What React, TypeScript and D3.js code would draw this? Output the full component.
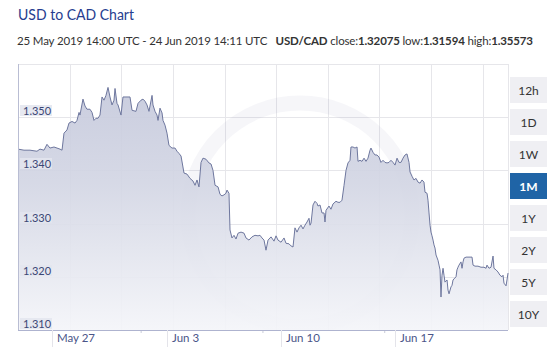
import React from "react";
import * as d3 from "d3";

// ---- data ----
const START_UTC = Date.UTC(2019, 4, 25, 14, 0);
const END_UTC = Date.UTC(2019, 5, 24, 14, 11);

const hoursFromStart = [
  0, 8.8, 17.6, 27.9, 32.3, 38.2, 42.6, 47.0, 52.9, 57.3, 61.7, 64.7, 67.6, 72.0, 75.0, 79.4, 83.8, 86.7, 89.7, 91.1,
  95.5, 98.5, 101.4, 105.8, 108.8, 111.7, 114.6, 117.6, 120.5, 123.5, 126.4, 129.3, 132.3, 135.2, 138.2, 141.1, 142.6, 145.5, 147.0, 151.4,
  154.3, 158.7, 164.6, 167.6, 173.4, 176.4, 180.8, 183.7, 186.7, 189.6, 192.5, 197.0, 198.4, 201.4, 204.3, 205.8, 208.7, 211.7, 213.1, 216.1,
  219.0, 221.9, 226.3, 230.8, 233.7, 236.6, 239.6, 244.0, 248.4, 252.8, 257.2, 260.2, 263.1, 266.0, 269.0, 271.9, 276.3, 280.7, 283.7, 286.6,
  289.6, 294.0, 296.9, 299.8, 302.8, 305.7, 307.2, 310.1, 311.6, 314.5, 317.5, 320.4, 323.4, 327.8, 332.2, 335.1, 339.5, 343.9, 348.3, 352.8,
  355.7, 358.6, 361.6, 364.5, 367.5, 371.9, 376.3, 379.2, 382.1, 386.6, 391.0, 393.9, 398.3, 401.3, 404.2, 407.1, 410.1, 413.0, 416.0, 418.9,
  421.8, 424.8, 427.7, 429.2, 430.7, 433.6, 436.5, 439.5, 440.9, 443.9, 446.8, 449.8, 451.2, 452.7, 457.1, 460.0, 463.0, 467.4, 470.3, 473.3,
  476.2, 479.2, 482.1, 485.0, 488.0, 489.4, 492.4, 495.3, 498.3, 499.7, 502.7, 505.6, 508.6, 511.5, 514.4, 517.4, 518.8, 521.8, 524.7, 527.7,
  530.6, 533.5, 536.5, 539.4, 542.4, 545.3, 548.2, 551.2, 554.1, 557.1, 560.0, 562.9, 565.9, 568.8, 571.7, 574.7, 576.2, 579.1, 582.0, 585.0,
  587.9, 590.9, 593.8, 596.7, 598.2, 601.2, 602.6, 604.1, 605.6, 607.0, 608.5, 610.0, 611.4, 612.9, 614.4, 617.3, 618.8, 620.3, 621.7, 623.2,
  624.7, 626.1, 627.6, 630.6, 632.0, 633.5, 636.4, 637.9, 639.4, 640.8, 643.8, 645.2, 646.7, 648.2, 651.1, 652.6, 654.1, 655.5, 658.5, 664.4,
  667.3, 668.8, 671.7, 676.1, 680.5, 684.9, 687.9, 689.3, 692.3, 695.2, 698.2, 699.6, 702.6, 705.5, 708.4, 711.4, 712.9, 714.3, 717.3, 718.7,
  720.2,
];

const rates = [
  1.3440, 1.3438, 1.3438, 1.3436, 1.3440, 1.3438, 1.3449, 1.3442, 1.3444, 1.3442, 1.3440, 1.3438, 1.3470, 1.3476, 1.3489, 1.3492, 1.3489, 1.3494, 1.3509, 1.3504,
  1.3534, 1.3521, 1.3515, 1.3515, 1.3509, 1.3494, 1.3498, 1.3498, 1.3504, 1.3538, 1.3532, 1.3541, 1.3556, 1.3538, 1.3523, 1.3532, 1.3554, 1.3526, 1.3523, 1.3504,
  1.3538, 1.3538, 1.3538, 1.3513, 1.3511, 1.3526, 1.3532, 1.3534, 1.3530, 1.3523, 1.3511, 1.3541, 1.3523, 1.3511, 1.3504, 1.3494, 1.3517, 1.3508, 1.3494, 1.3485,
  1.3470, 1.3447, 1.3442, 1.3442, 1.3436, 1.3432, 1.3427, 1.3395, 1.3393, 1.3385, 1.3380, 1.3372, 1.3382, 1.3369, 1.3415, 1.3423, 1.3421, 1.3414, 1.3412, 1.3400,
  1.3372, 1.3369, 1.3355, 1.3352, 1.3354, 1.3357, 1.3363, 1.3357, 1.3288, 1.3273, 1.3278, 1.3271, 1.3282, 1.3284, 1.3282, 1.3273, 1.3269, 1.3275, 1.3278, 1.3277,
  1.3278, 1.3273, 1.3269, 1.3250, 1.3269, 1.3275, 1.3267, 1.3277, 1.3269, 1.3265, 1.3273, 1.3263, 1.3262, 1.3258, 1.3256, 1.3292, 1.3284, 1.3292, 1.3297, 1.3290,
  1.3297, 1.3303, 1.3310, 1.3297, 1.3301, 1.3335, 1.3342, 1.3338, 1.3333, 1.3335, 1.3320, 1.3320, 1.3303, 1.3325, 1.3333, 1.3327, 1.3337, 1.3342, 1.3340, 1.3340,
  1.3344, 1.3372, 1.3400, 1.3414, 1.3419, 1.3444, 1.3444, 1.3442, 1.3444, 1.3417, 1.3419, 1.3417, 1.3423, 1.3417, 1.3423, 1.3438, 1.3442, 1.3434, 1.3429, 1.3429,
  1.3425, 1.3415, 1.3419, 1.3415, 1.3414, 1.3415, 1.3419, 1.3415, 1.3410, 1.3423, 1.3415, 1.3415, 1.3423, 1.3429, 1.3431, 1.3415, 1.3397, 1.3389, 1.3382, 1.3385,
  1.3378, 1.3376, 1.3382, 1.3378, 1.3359, 1.3357, 1.3344, 1.3320, 1.3297, 1.3284, 1.3277, 1.3269, 1.3260, 1.3254, 1.3241, 1.3231, 1.3222, 1.3213, 1.3162, 1.3203,
  1.3216, 1.3203, 1.3190, 1.3194, 1.3175, 1.3168, 1.3181, 1.3184, 1.3194, 1.3196, 1.3200, 1.3213, 1.3218, 1.3222, 1.3228, 1.3216, 1.3228, 1.3235, 1.3237, 1.3237,
  1.3237, 1.3222, 1.3220, 1.3220, 1.3218, 1.3218, 1.3216, 1.3222, 1.3216, 1.3218, 1.3239, 1.3216, 1.3213, 1.3209, 1.3203, 1.3200, 1.3203, 1.3188, 1.3183, 1.3194,
  1.3207,
];

const yTicks = [1.31, 1.32, 1.33, 1.34, 1.35];
const xTickDates = ["2019-05-27", "2019-06-03", "2019-06-10", "2019-06-17"];
const xTickLabels = ["May 27", "Jun 3", "Jun 10", "Jun 17"];
const rangeButtons = ["12h", "1D", "1W", "1M", "1Y", "2Y", "5Y", "10Y"];
const selectedRange = "1M";
const subtitleRange = "25 May 2019 14:00 UTC - 24 Jun 2019 14:11 UTC";
const pair = "USD/CAD";
const closeVal = "1.32075";
const lowVal = "1.31594";
const highVal = "1.35573";

// ---- layout ----
const W = 553;
const H = 359;
const PL = 18, PR = 508, PT = 64, PB = 330;
const FONT = "Lato, 'Open Sans', sans-serif";
const HOUR = 3600 * 1000;
const TICK_SHIFT_H = 16.6; // display timezone offset of the chart's day ticks

export default function App() {
  const points = hoursFromStart.map((h, i) => ({ t: new Date(START_UTC + h * HOUR), v: rates[i] }));
  const x = d3.scaleTime().domain([new Date(START_UTC), new Date(END_UTC)]).range([PL, PR]);
  const y = d3.scaleLinear().domain([1.31, 1.36]).range([PB, PT]);

  const area = d3
    .area<{ t: Date; v: number }>()
    .x((d) => x(d.t))
    .y0(PB)
    .y1((d) => y(d.v));
  const line = d3
    .line<{ t: Date; v: number }>()
    .x((d) => x(d.t))
    .y((d) => y(d.v));

  const gridStepH = 75.9;
  const vGrid = d3.range(1, 10).map((k) => new Date(START_UTC + k * gridStepH * HOUR));
  const minorTicks = [181, 360, 539].map((h) => new Date(START_UTC + h * HOUR));
  const fmt = d3.format(".3f");

  return (
    <svg width={W} height={H} style={{ position: "absolute", left: 0, top: 0, background: "#fff" }} fontFamily={FONT}>
      <defs>
        <linearGradient id="areaGrad" gradientUnits="userSpaceOnUse" x1="0" y1={PT} x2="0" y2={PB}>
          <stop offset="0" stopColor="#c2c6da" />
          <stop offset="0.45" stopColor="#d3d6e4" />
          <stop offset="1" stopColor="#f4f5f9" />
        </linearGradient>
        <clipPath id="plotClip">
          <rect x={PL} y={PT} width={PR - PL} height={PB - PT} />
        </clipPath>
      </defs>

      {/* title */}
      <text x={18} y={20} fontSize={15.5} fill="#263d8f" textLength={116} lengthAdjust="spacingAndGlyphs">
        USD to CAD Chart
      </text>
      <text x={17} y={45} fontSize={11.5} fill="#333" letterSpacing={-0.15}>
        {subtitleRange + "\u00a0\u00a0\u00a0"}
        <tspan fontWeight="bold">{pair}</tspan>
        {" close:"}
        <tspan fontWeight="bold">{closeVal}</tspan>
        {" low:"}
        <tspan fontWeight="bold">{lowVal}</tspan>
        {" high:"}
        <tspan fontWeight="bold">{highVal}</tspan>
      </text>

      {/* grid */}
      <rect x={PL} y={PT} width={PR - PL} height={PB - PT} fill="#fff" />
      {yTicks.concat([1.36]).map((t) => (
        <line key={t} x1={PL} x2={PR} y1={Math.round(y(t)) + 0.5} y2={Math.round(y(t)) + 0.5} stroke="#e6e6ea" />
      ))}
      {vGrid.map((d, i) => (
        <line key={i} x1={Math.round(x(d)) + 0.5} x2={Math.round(x(d)) + 0.5} y1={PT} y2={PB} stroke="#e6e6ea" />
      ))}
      <line x1={PR + 0.5} x2={PR + 0.5} y1={PT} y2={PB} stroke="#e6e6ea" />

      {/* watermark ring */}
      <g clipPath="url(#plotClip)">
        <circle cx={300} cy={215} r={112} fill="none" stroke="#7d86b0" strokeOpacity={0.07} strokeWidth={15} />
      </g>

      {/* series */}
      <path d={area(points) || ""} fill="url(#areaGrad)" fillOpacity={0.92} />
      <path d={line(points) || ""} fill="none" stroke="#6e779e" strokeWidth={1} strokeLinejoin="round" />

      {/* axes */}
      <line x1={PL + 0.5} x2={PL + 0.5} y1={PT} y2={PB} stroke="#b9bdd3" />
      <line x1={PL} x2={PR} y1={PB + 0.5} y2={PB + 0.5} stroke="#aeb3cf" />
      {minorTicks.map((d, i) => (
        <line key={i} x1={x(d)} x2={x(d)} y1={PB + 1} y2={PB + 3} stroke="#c8cbd8" />
      ))}

      {/* y labels */}
      {yTicks.map((t) => {
        const yy = Math.round(y(t));
        return (
          <g key={t}>
            <rect x={20} y={yy - 12} width={32} height={11} fill="#e3e5ef" fillOpacity={0.85} />
            <text x={23} y={yy - 2.5} fontSize={11} fill="#3b4775">
              {fmt(t)}
            </text>
          </g>
        );
      })}

      {/* x labels */}
      {xTickDates.map((s, i) => {
        const d = new Date(Date.parse(s + "T00:00:00Z") + TICK_SHIFT_H * HOUR);
        const xx = Math.round(x(d)) + 0.5;
        return (
          <g key={s}>
            <line x1={xx} x2={xx} y1={PB} y2={347} stroke="#e4e4ea" />
            <text x={xx + 4.5} y={342} fontSize={11.5} fill="#4a5588">
              {xTickLabels[i]}
            </text>
          </g>
        );
      })}

      {/* range buttons */}
      {rangeButtons.map((b, i) => {
        const by = 77 + i * 32;
        const sel = b === selectedRange;
        return (
          <g key={b}>
            <rect x={510} y={by} width={37} height={26} fill={sel ? "#1f64a6" : "#efeff3"} />
            <text
              x={528.5}
              y={by + 17.5}
              fontSize={12}
              textAnchor="middle"
              fill={sel ? "#fff" : "#333"}
              fontWeight={sel ? "bold" : "normal"}
            >
              {b}
            </text>
          </g>
        );
      })}
    </svg>
  );
}
